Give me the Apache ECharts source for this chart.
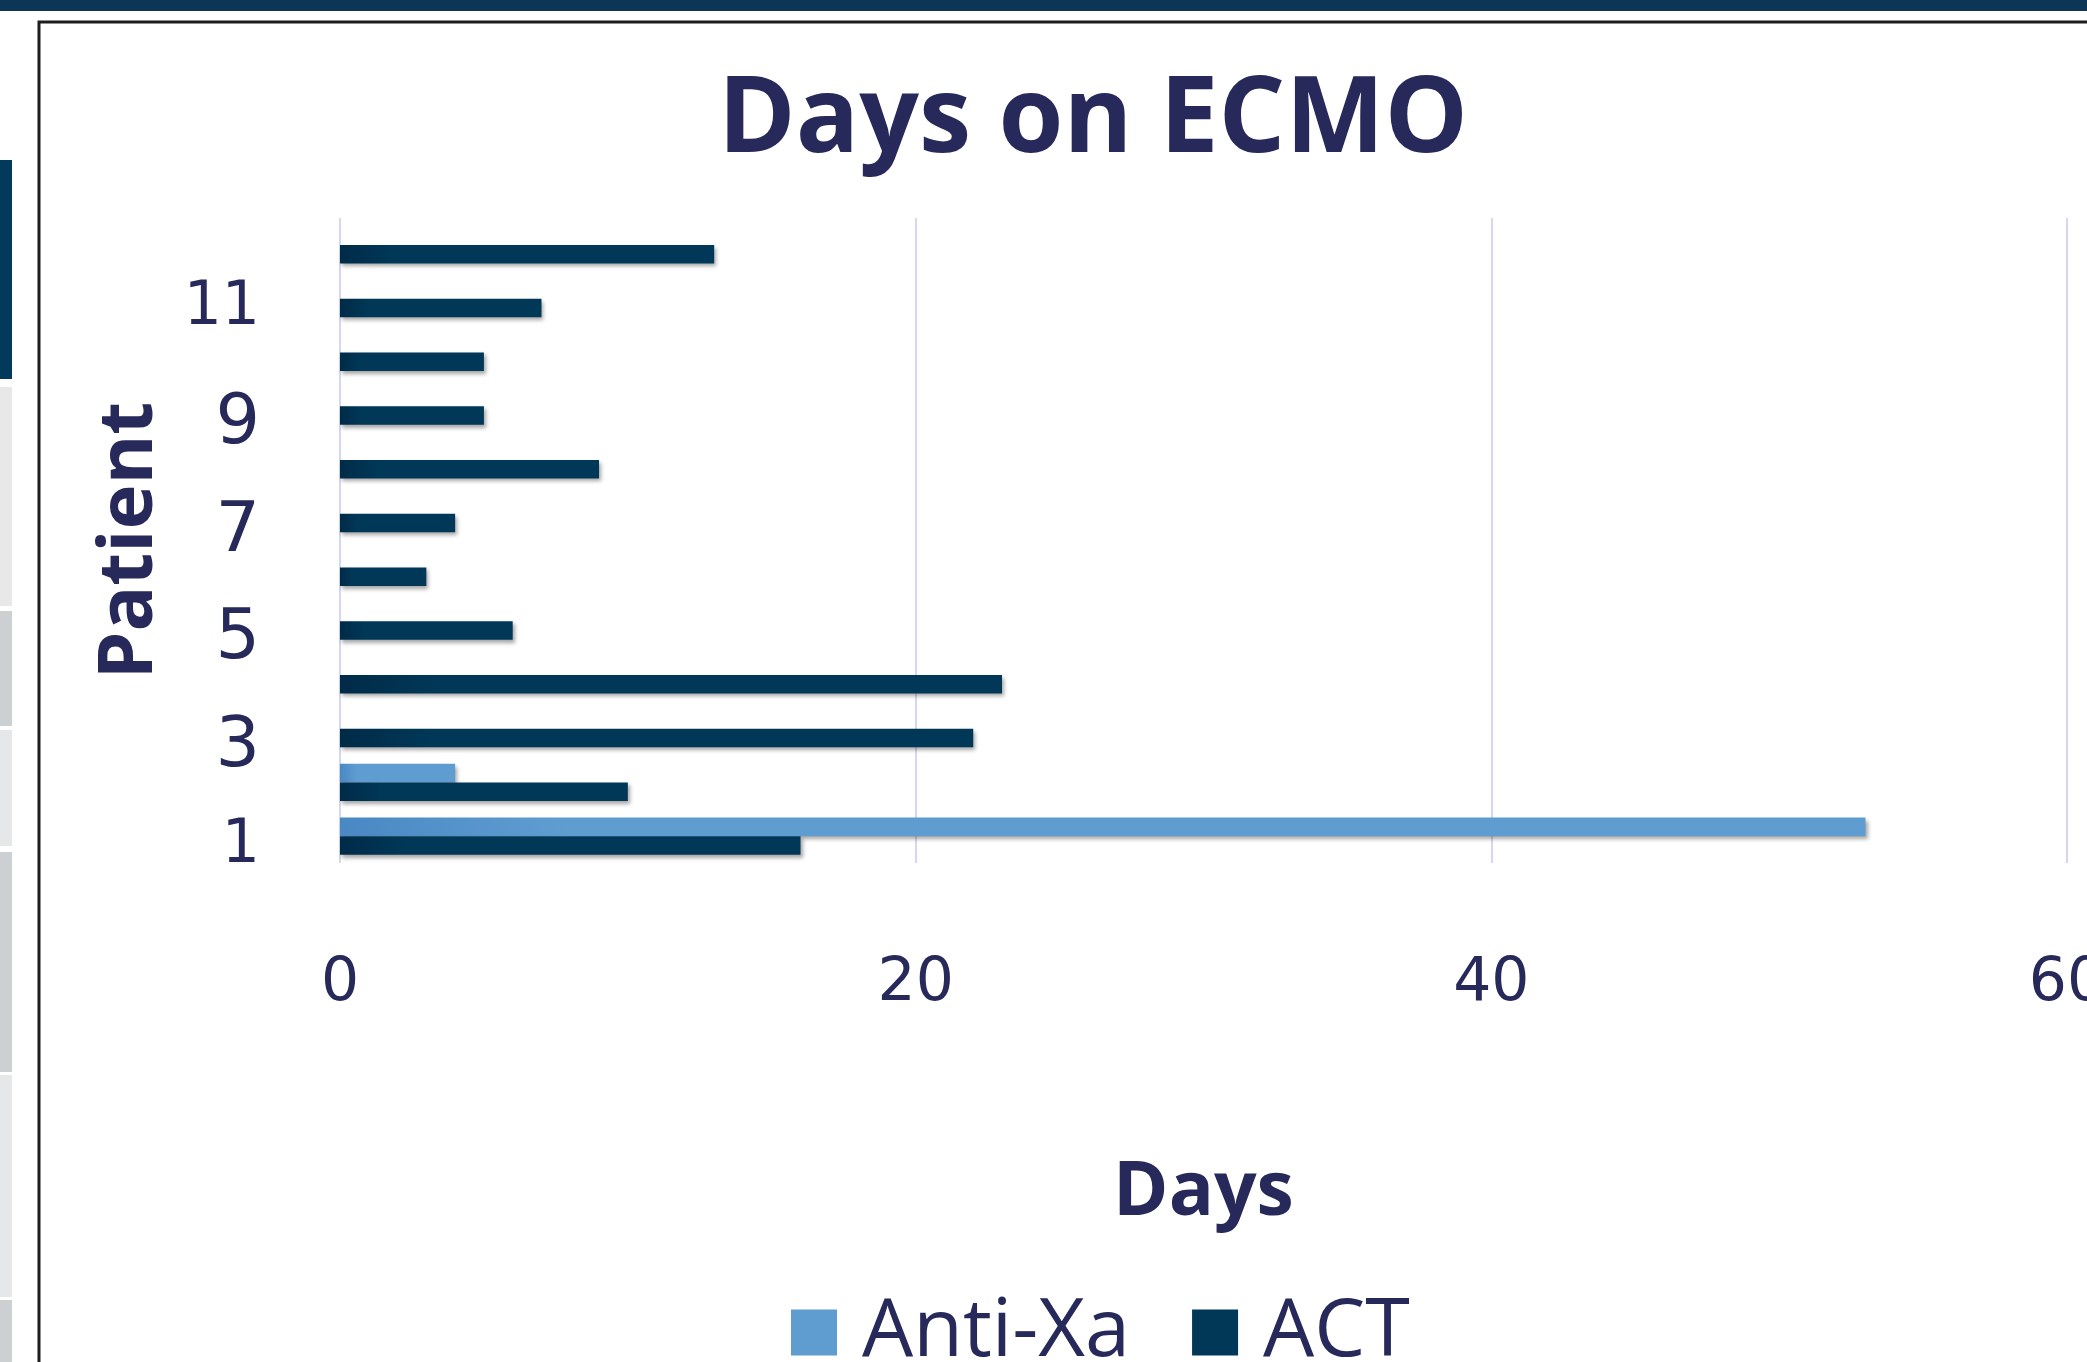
<!DOCTYPE html>
<html>
<head>
<meta charset="utf-8">
<title>Days on ECMO</title>
<script src="https://cdn.jsdelivr.net/npm/echarts@6/dist/echarts.min.js"></script>
<style>
  html, body { margin: 0; padding: 0; background: #fff; }
  #chart { width: 2087px; height: 1362px; }
</style>
</head>
<body>
<div id="chart"></div>
<script>
// patients, bottom to top
const patients = ['1', '2', '3', '4', '5', '6', '7', '8', '9', '10', '11', '12'];
const antiXaDays = [53, 4, null, null, null, null, null, null, null, null, null, null];
const actDays = [16, 10, 22, 23, 6, 3, 4, 9, 5, 5, 7, 13];
const dayTicks = [0, 20, 40, 60];

const textColor = '#262959';
const fontFamily = '"Open Sans", "Noto Sans", sans-serif';
const digitFont = '"DejaVu Sans", "Open Sans", sans-serif';

// slide chrome around the chart (not data)
const sideBlocks = [
  { y: 160, h: 219, fill: '#013a5b' },
  { y: 387, h: 219, fill: '#e8e8e8' },
  { y: 611, h: 115, fill: '#cdd0d3' },
  { y: 730, h: 116, fill: '#e6e7e9' },
  { y: 852, h: 220, fill: '#cdd0d3' },
  { y: 1075, h: 222, fill: '#e6e7e9' },
  { y: 1300, h: 62, fill: '#cdd0d3' },
];

const chart = echarts.init(document.getElementById('chart'));

const barShadow = {
  shadowColor: 'rgba(0, 0, 0, 0.35)',
  shadowBlur: 4,
  shadowOffsetX: 2,
  shadowOffsetY: 3,
};

// the source font uses old-style figures: 3, 5, 7, 9 hang below the baseline
const hangingDigits = /^[3579]$/;

const option = {
  animation: false,
  backgroundColor: '#fff',
  textStyle: { fontFamily },
  graphic: [
    { type: 'rect', shape: { x: 0, y: 0, width: 2087, height: 11 }, style: { fill: '#0d3556' }, silent: true },
    ...sideBlocks.map((b) => ({
      type: 'rect',
      shape: { x: 0, y: b.y, width: 12, height: b.h },
      style: { fill: b.fill },
      silent: true,
    })),
    {
      type: 'polyline',
      shape: { points: [[39, 1362], [39, 22], [2087, 22]] },
      style: { stroke: '#1e1e1e', lineWidth: 3, fill: null },
      silent: true,
    },
  ],
  title: {
    text: 'Days on ECMO',
    left: 1088,
    top: 65,
    textAlign: 'center',
    textStyle: {
      color: textColor,
      fontFamily,
      fontWeight: 'bold',
      fontSize: 105,
    },
  },
  legend: {
    data: [
      { name: 'Anti-Xa', itemStyle: { color: '#5f9dd1', shadowBlur: 0, shadowOffsetX: 0, shadowOffsetY: 0 } },
      { name: 'ACT', itemStyle: { color: '#013858', shadowBlur: 0, shadowOffsetX: 0, shadowOffsetY: 0 } },
    ],
    left: 786,
    top: 1287,
    icon: 'rect',
    itemWidth: 46,
    itemHeight: 46,
    itemGap: 62,
    textStyle: {
      color: textColor,
      fontFamily,
      fontSize: 81,
      padding: [0, 0, 0, 20],
    },
  },
  grid: {
    left: 340,
    right: 20,
    top: 218,
    bottom: 499,
    outerBoundsMode: 'none',
    containLabel: false,
  },
  xAxis: {
    type: 'value',
    min: dayTicks[0],
    max: dayTicks[dayTicks.length - 1],
    interval: 20,
    name: 'Days',
    nameLocation: 'middle',
    nameGap: 293,
    nameTextStyle: {
      color: textColor,
      fontFamily,
      fontWeight: 'bold',
      fontSize: 75,
    },
    axisLine: { show: false },
    axisTick: { show: false },
    axisLabel: {
      color: textColor,
      fontFamily: digitFont,
      fontSize: 60,
      margin: 91,
      showMaxLabel: true,
      showMinLabel: true,
    },
    splitLine: {
      show: true,
      lineStyle: { color: '#d3d8ee', width: 2 },
    },
  },
  yAxis: {
    type: 'category',
    data: patients,
    name: 'Patient',
    nameLocation: 'middle',
    nameGap: 172,
    nameRotate: 90,
    nameTextStyle: {
      color: textColor,
      fontFamily,
      fontWeight: 'bold',
      fontSize: 76,
    },
    axisLine: { show: false },
    axisTick: { show: false },
    axisLabel: {
      interval: 1,
      color: textColor,
      fontFamily: digitFont,
      fontSize: 60,
      margin: 80,
      formatter: (v) => (hangingDigits.test(v) ? '{lo|' + v + '}' : '{up|' + v + '}'),
      rich: {
        up: {
          color: textColor,
          fontFamily: digitFont,
          fontSize: 60,
          padding: [20, 0, 0, 0],
        },
        lo: {
          color: textColor,
          fontFamily: digitFont,
          fontSize: 70,
          padding: [38, 0, 0, 0],
        },
      },
    },
    splitLine: { show: false },
  },
  series: [
    {
      name: 'Anti-Xa',
      type: 'bar',
      data: antiXaDays,
      barGap: '0%',
      barCategoryGap: '31%',
      itemStyle: {
        color: {
          type: 'linear', x: 0, y: 0, x2: 1, y2: 0,
          colorStops: [
            { offset: 0, color: '#4a88c4' },
            { offset: 0.15, color: '#5f9dd1' },
            { offset: 1, color: '#5f9dd1' },
          ],
        },
        ...barShadow,
      },
    },
    {
      name: 'ACT',
      type: 'bar',
      data: actDays,
      barGap: '0%',
      barCategoryGap: '31%',
      itemStyle: {
        color: {
          type: 'linear', x: 0, y: 0, x2: 1, y2: 0,
          colorStops: [
            { offset: 0, color: '#002b48' },
            { offset: 0.15, color: '#013858' },
            { offset: 1, color: '#013858' },
          ],
        },
        ...barShadow,
      },
    },
  ],
};

chart.setOption(option);
</script>
</body>
</html>
